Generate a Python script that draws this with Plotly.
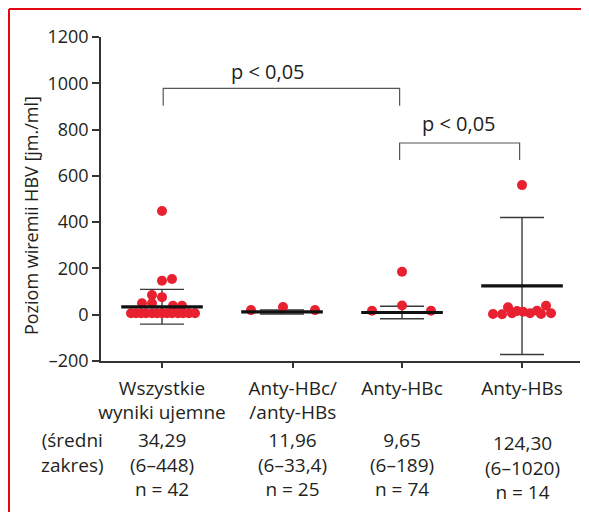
import plotly.graph_objects as go

# ---- data ----
categories = ["Wszystkie<br>wyniki ujemne", "Anty-HBc/<br>/anty-HBs", "Anty-HBc", "Anty-HBs"]
group_pos = [1, 2, 3, 4]
tick_pos = [1.0, 2.09, 3.0, 4.0]
means = [34.29, 11.96, 9.65, 124.30]
sds = [75, 9, 27, 296]
stats_mean = ["34,29", "11,96", "9,65", "124,30"]
stats_range = ["(6–448)", "(6–33,4)", "(6–189)", "(6–1020)"]
stats_n = ["n = 42", "n = 25", "n = 74", "n = 14"]

g1_vals = [448, 147, 154, 85, 76, 49, 49, 39, 39, 6, 6, 6, 6, 6, 6, 6, 6, 6, 6, 6, 6, 6]
g1_off = [0, 0, 10, -10, 0, -20, -10, 11, 20, -31, -26, -21, -16, -10, -5, 0, 5, 10, 16, 21, 27, 33]
g2_vals = [20, 33, 20]
g2_off = [-31, 1, 33]
g3_vals = [17, 186, 40, 17]
g3_off = [-30, 0, 0, 29]
g4_vals = [560, 3, 2, 32, 6, 16, 13, 6, 17, 3, 39, 6]
g4_off = [0, -29, -20, -14, -10, -5, 1, 8, 15, 19, 24, 29]

yticks = [-200, 0, 200, 400, 600, 800, 1000, 1200]
yticktext = ["–200", "0", "200", "400", "600", "800", "1000", "1200"]

PX_PER_UNIT = 120.0
RED = "#e8202f"
DARK = "#231f20"
FONT = "Open Sans"

fig = go.Figure()

# error bars (mean ± SD)
fig.add_trace(go.Scatter(
    x=group_pos, y=means, mode="markers",
    marker=dict(size=1, opacity=0),
    error_y=dict(type="data", array=sds, visible=True, width=22, thickness=1.4, color="#3a3a3a"),
    hoverinfo="skip", showlegend=False))

# dots
groups = [(g1_vals, g1_off), (g2_vals, g2_off), (g3_vals, g3_off), (g4_vals, g4_off)]
for gp, (vals, offs) in zip(group_pos, groups):
    fig.add_trace(go.Scatter(
        x=[gp + o / PX_PER_UNIT for o in offs], y=vals, mode="markers",
        marker=dict(size=10, color=RED, line=dict(width=0)),
        showlegend=False))

# mean bars
mx, my = [], []
for gp, m in zip(group_pos, means):
    mx += [gp - 0.34, gp + 0.34, None]
    my += [m, m, None]
fig.add_trace(go.Scatter(x=mx, y=my, mode="lines", line=dict(color="#111", width=3.2),
                         showlegend=False, hoverinfo="skip"))

# significance brackets
brackets = [(1.01, 2.98, 978, 903, "p < 0,05", 1.885, 1052),
            (2.98, 3.98, 742, 669, "p < 0,05", 3.475, 828)]
for x0, x1, yt, yb, txt, tx, ty in brackets:
    fig.add_trace(go.Scatter(x=[x0, x0, x1, x1], y=[yb, yt, yt, yb], mode="lines",
                             line=dict(color="#555", width=1.2), showlegend=False, hoverinfo="skip"))
    fig.add_annotation(x=tx, y=ty, text=txt, showarrow=False, xanchor="center", yanchor="middle",
                       font=dict(family=FONT, size=20, color=DARK), xref="x", yref="y")

# stats under axis
for i, (tp, a, b, c) in enumerate(zip(tick_pos, stats_mean, stats_range, stats_n)):
    yc = -0.318 if i < 3 else -0.330
    fig.add_annotation(x=tp, y=yc, xref="x", yref="paper", text=f"{a}<br>{b}<br>{c}",
                       showarrow=False, xanchor="center", yanchor="middle", align="center",
                       font=dict(family=FONT, size=19, color=DARK))
fig.add_annotation(x=-0.0605, y=-0.281, xref="paper", yref="paper", text="(średni<br>zakres)",
                   showarrow=False, xanchor="center", yanchor="middle", align="center",
                   font=dict(family=FONT, size=19, color=DARK))

# y axis title
fig.add_annotation(x=-0.146, y=0.4475, xref="paper", yref="paper", text="Poziom wiremii HBV [jm./ml]",
                   textangle=-90, showarrow=False, xanchor="center", yanchor="middle",
                   font=dict(family=FONT, size=18, color=DARK))

# red frame (top and left)
fig.add_shape(type="line", xref="paper", yref="paper", x0=-0.1921, x1=1.05, y0=1.0864, y1=1.0864,
              line=dict(color="#e30613", width=2))
fig.add_shape(type="line", xref="paper", yref="paper", x0=-0.1921, x1=-0.1921, y0=1.0864, y1=-0.6,
              line=dict(color="#e30613", width=2))

fig.update_layout(
    width=581, height=504,
    margin=dict(l=93, r=9, t=29, b=151),
    paper_bgcolor="white", plot_bgcolor="white",
    font=dict(family=FONT, size=18, color=DARK),
    xaxis=dict(range=[0.4917, 4.483], tickvals=tick_pos, ticktext=categories,
               showline=True, linecolor="#333", linewidth=1.5, ticks="outside", ticklen=5,
               tickcolor="#333", tickwidth=1.5, showgrid=False, zeroline=False,
               ticklabelstandoff=4,
               tickfont=dict(family=FONT, size=19, color=DARK)),
    yaxis=dict(range=[-200, 1200], tickvals=yticks, ticktext=yticktext,
               showline=True, linecolor="#333", linewidth=1.5, ticks="outside", ticklen=7,
               tickcolor="#333", tickwidth=1.5, showgrid=False, zeroline=False,
               tickfont=dict(family=FONT, size=18, color=DARK)),
)

fig.write_html("out.html")
